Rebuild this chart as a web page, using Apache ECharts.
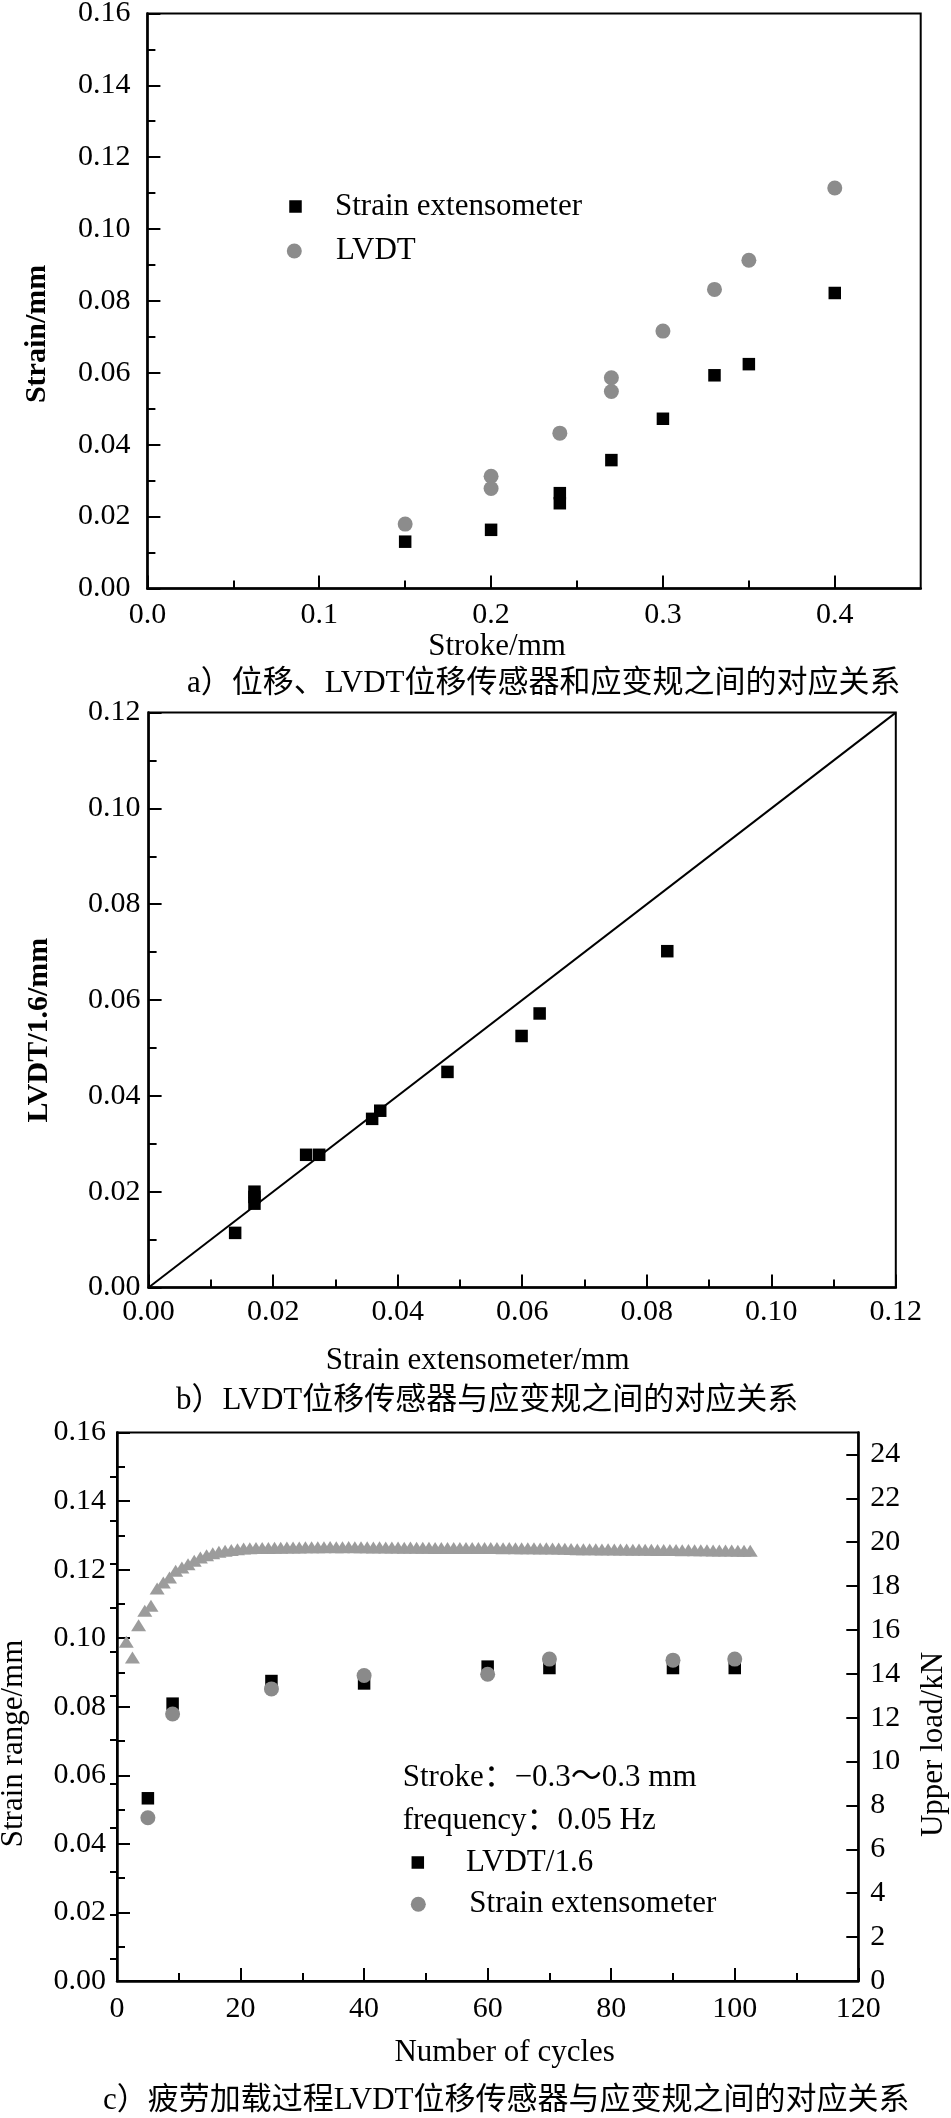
<!DOCTYPE html>
<html><head><meta charset="utf-8">
<script src="https://cdn.jsdelivr.net/npm/echarts@6/dist/echarts.min.js"></script>
<style>html,body{margin:0;padding:0;background:#fff}#c{width:951px;height:2118px}</style>
</head><body><div id="c"></div>
<script>
// ---------- chart a: stroke vs strain ----------
const aExtStroke  = [0.15, 0.20, 0.24, 0.24, 0.27, 0.30, 0.33, 0.35, 0.40];
const aExtStrain  = [0.0130, 0.0163, 0.0265, 0.0237, 0.0357, 0.0472, 0.0593, 0.0624, 0.0822];
const aLvdtStroke = [0.15, 0.20, 0.20, 0.24, 0.27, 0.27, 0.30, 0.33, 0.35, 0.40];
const aLvdtStrain = [0.0179, 0.0312, 0.0278, 0.0432, 0.0586, 0.0548, 0.0716, 0.0832, 0.0913, 0.1114];
const aXMinorTicks = [0.05, 0.15, 0.25, 0.35];

// ---------- chart b: extensometer vs LVDT/1.6 ----------
const bExt  = [0.0139, 0.0170, 0.0170, 0.0170, 0.0253, 0.0274, 0.0359, 0.0372, 0.0480, 0.0599, 0.0628, 0.0833];
const bLvdt = [0.0114, 0.0200, 0.0189, 0.0175, 0.0277, 0.0277, 0.0352, 0.0369, 0.0450, 0.0525, 0.0572, 0.0702];
const bRefX = [0, 0.12];
const bRefY = [0, 0.12];

// ---------- chart c: fatigue loading ----------
const cCycles = [5, 9, 25, 40, 60, 70, 90, 100];
const cLvdt   = [0.0533, 0.0809, 0.0875, 0.0868, 0.0917, 0.0913, 0.0913, 0.0913];
const cExt    = [0.0476, 0.0779, 0.0852, 0.0891, 0.0895, 0.0939, 0.0936, 0.0939];
const cLoadCycles = [
  1.5, 2.5, 3.5, 4.5, 5.5, 6.5, 7.5, 8.5, 9.5, 10.5,
  11.5, 12.5, 13.5, 14.5, 15.5, 16.5, 17.5, 18.5, 19.5, 20.5,
  21.5, 22.5, 23.5, 24.5, 25.5, 26.5, 27.5, 28.5, 29.5, 30.5,
  31.5, 32.5, 33.5, 34.5, 35.5, 36.5, 37.5, 38.5, 39.5, 40.5,
  41.5, 42.5, 43.5, 44.5, 45.5, 46.5, 47.5, 48.5, 49.5, 50.5,
  51.5, 52.5, 53.5, 54.5, 55.5, 56.5, 57.5, 58.5, 59.5, 60.5,
  61.5, 62.5, 63.5, 64.5, 65.5, 66.5, 67.5, 68.5, 69.5, 70.5,
  71.5, 72.5, 73.5, 74.5, 75.5, 76.5, 77.5, 78.5, 79.5, 80.5,
  81.5, 82.5, 83.5, 84.5, 85.5, 86.5, 87.5, 88.5, 89.5, 90.5,
  91.5, 92.5, 93.5, 94.5, 95.5, 96.5, 97.5, 98.5, 99.5, 100.5,
  101.5, 102.5
];
const cUpperLoad = [
  15.46, 14.74, 16.22, 16.87, 17.10, 17.89, 18.16, 18.39, 18.70, 18.85,
  19.00, 19.15, 19.30, 19.41, 19.50, 19.56, 19.61, 19.65, 19.68, 19.71,
  19.72, 19.73, 19.74, 19.74, 19.75, 19.75, 19.76, 19.76, 19.76, 19.77,
  19.77, 19.77, 19.77, 19.78, 19.77, 19.77, 19.78, 19.77, 19.77, 19.77,
  19.76, 19.77, 19.76, 19.76, 19.76, 19.75, 19.76, 19.75, 19.75, 19.75,
  19.74, 19.74, 19.74, 19.74, 19.73, 19.74, 19.73, 19.73, 19.73, 19.73,
  19.73, 19.72, 19.73, 19.72, 19.72, 19.72, 19.72, 19.71, 19.72, 19.71,
  19.71, 19.70, 19.69, 19.68, 19.68, 19.68, 19.68, 19.67, 19.68, 19.67,
  19.67, 19.67, 19.66, 19.67, 19.66, 19.66, 19.65, 19.64, 19.64, 19.64,
  19.63, 19.64, 19.63, 19.63, 19.63, 19.62, 19.62, 19.62, 19.62, 19.61,
  19.61, 19.61
];
const cRightMajorTicks = [0, 2, 4, 6, 8, 10, 12, 14, 16, 18, 20, 22, 24];
const cRightMinorTicks = [1, 3, 5, 7, 9, 11, 13, 15, 17, 19, 21, 23];

const legendNames = {
  aExt: 'Strain extensometer', aLvdt: 'LVDT',
  cLvdt: 'LVDT/1.6', cExt: 'Strain extensometer'
};
const captions = [
  'a）位移、LVDT位移传感器和应变规之间的对应关系',
  'b）LVDT位移传感器与应变规之间的对应关系',
  'c）疲劳加载过程LVDT位移传感器与应变规之间的对应关系'
];
const notes = ['Stroke：−0.3～0.3 mm', 'frequency：0.05 Hz'];
const cAxisTitles = ['Strain range/mm', 'Upper load/kN'];

const FONT = "'Liberation Serif', 'Noto Sans CJK SC', serif";
const zip = (xs, ys) => xs.map((x, i) => [x, ys[i]]);
const BLACK = '#000';

function labelStyle(fmt, margin, extra) {
  return Object.assign({ show: true, formatter: fmt, margin: margin, fontSize: 30, fontFamily: FONT, color: BLACK }, extra || {});
}
function valueAxis(o) {
  const base = {
    type: 'value', splitLine: { show: false },
    axisLine: { show: true, onZero: false, lineStyle: { color: BLACK, width: 2.5 } },
    axisTick: { show: true, inside: true, length: 13, lineStyle: { color: BLACK, width: 2 } },
    minorTick: { show: false },
    nameTextStyle: { fontSize: 31, fontFamily: FONT, color: BLACK }
  };
  return Object.assign(base, o);
}
function minorAxis(o) {
  return Object.assign({
    type: 'value', splitLine: { show: false }, axisLine: { show: false },
    axisLabel: { show: false },
    axisTick: { show: true, inside: true, length: 8, lineStyle: { color: BLACK, width: 2 } }
  }, o);
}
const mtick = { show: true, splitNumber: 2, length: 8, lineStyle: { color: BLACK, width: 2 } };

function mkLegend(name, left, top, w, h, pad) {
  return {
    data: [name], left: left, top: top, orient: 'vertical', itemWidth: w, itemHeight: h,
    padding: 0, selectedMode: false, formatter: n => legendNames[n],
    textStyle: { fontFamily: FONT, fontSize: 31, color: BLACK, padding: pad }
  };
}
function txt(t, x, y, size) {
  return { type: 'text', x: x, y: y, silent: true,
    style: { text: t, fontSize: size, fontFamily: FONT, fill: BLACK, verticalAlign: 'middle', align: 'left' } };
}
function vtxt(t, x, y, size) {
  return { type: 'text', x: x, y: y, rotation: Math.PI / 2, silent: true,
    style: { text: t, fontSize: size, fontFamily: FONT, fill: BLACK, verticalAlign: 'middle', align: 'center' } };
}

const chart = echarts.init(document.getElementById('c'), null, { renderer: 'canvas' });
const gridBox = { show: true, borderColor: BLACK, borderWidth: 2, backgroundColor: 'transparent', containLabel: false, outerBoundsMode: 'none' };

chart.setOption({
  animation: false,
  backgroundColor: '#fff',
  textStyle: { fontFamily: FONT },
  grid: [
    Object.assign({ left: 147.4, top: 13.4, width: 773.3, height: 575 }, gridBox),
    Object.assign({ left: 148.6, top: 712.6, width: 747.2, height: 574.9 }, gridBox),
    Object.assign({ left: 117, top: 1432.5, width: 741.3, height: 548.5 }, gridBox)
  ],
  xAxis: [
    valueAxis({ gridIndex: 0, position: 'bottom', min: 0, max: 0.45, interval: 0.1,
      axisLabel: labelStyle(v => v.toFixed(1), 12, { showMaxLabel: false }),
      name: 'Stroke/mm', nameLocation: 'middle', nameGap: 41,
      nameTextStyle: { fontSize: 31, fontFamily: FONT, color: BLACK, padding: [0, 74, 0, 0] } }),
    minorAxis({ gridIndex: 0, position: 'bottom', min: 0, max: 0.45,
      axisTick: { show: true, inside: true, length: 8, customValues: aXMinorTicks, lineStyle: { color: BLACK, width: 2 } } }),
    valueAxis({ gridIndex: 1, position: 'bottom', min: 0, max: 0.12, interval: 0.02, minorTick: mtick,
      axisLabel: labelStyle(v => v.toFixed(2), 10),
      name: 'Strain extensometer/mm', nameLocation: 'middle', nameGap: 58,
      nameTextStyle: { fontSize: 31, fontFamily: FONT, color: BLACK, padding: [0, 89, 0, 0] } }),
    valueAxis({ gridIndex: 2, position: 'bottom', min: 0, max: 120, interval: 20, minorTick: mtick,
      axisLabel: labelStyle(v => String(v), 13),
      name: 'Number of cycles', nameLocation: 'middle', nameGap: 56,
      nameTextStyle: { fontSize: 31, fontFamily: FONT, color: BLACK, padding: [0, 0, 0, 34] } })
  ],
  yAxis: [
    valueAxis({ gridIndex: 0, position: 'left', min: 0, max: 0.16, interval: 0.02, minorTick: mtick,
      axisLabel: labelStyle(v => v.toFixed(2), 17),
      name: 'Strain/mm', nameLocation: 'middle', nameGap: 95,
      nameTextStyle: { fontSize: 30, fontWeight: 'bold', fontFamily: FONT, color: BLACK, padding: [0, 66, 0, 0] } }),
    valueAxis({ gridIndex: 1, position: 'left', min: 0, max: 0.12, interval: 0.02, minorTick: mtick,
      axisLabel: labelStyle(v => v.toFixed(2), 8),
      name: 'LVDT/1.6/mm', nameLocation: 'middle', nameGap: 94,
      nameTextStyle: { fontSize: 30, fontWeight: 'bold', fontFamily: FONT, color: BLACK, padding: [0, 60, 0, 0] } }),
    valueAxis({ gridIndex: 2, position: 'left', min: 0, max: 0.16, interval: 0.02, minorTick: mtick,
      axisLabel: labelStyle(v => v.toFixed(2), 11) }),
    valueAxis({ gridIndex: 2, position: 'right', min: 0, max: 25, interval: 2,
      axisTick: { show: true, inside: true, length: 12, customValues: cRightMajorTicks, lineStyle: { color: BLACK, width: 2 } },
      axisLabel: labelStyle(v => String(v), 12, { showMaxLabel: false }) }),
    minorAxis({ gridIndex: 2, position: 'right', min: 0, max: 25,
      axisTick: { show: true, inside: true, length: 7, customValues: cRightMinorTicks, lineStyle: { color: BLACK, width: 2 } } })
  ],
  legend: [
    mkLegend('aExt', 289.25, 191, 12.5, 12.5, [0, 0, 10, 28.25]),
    mkLegend('aLvdt', 286.8, 235.5, 15, 15, [0, 0, 6, 29.2]),
    mkLegend('cLvdt', 411.55, 1847, 12.5, 12.5, [0, 0, 0, 36.95]),
    mkLegend('cExt', 410.8, 1888.8, 15, 15, [0, 0, 0, 38.5])
  ],
  series: [
    { name: 'aLvdt', type: 'scatter', xAxisIndex: 0, yAxisIndex: 0, symbol: 'circle', symbolSize: 15,
      itemStyle: { color: '#8c8c8c', opacity: 1 }, data: zip(aLvdtStroke, aLvdtStrain) },
    { name: 'aExt', type: 'scatter', xAxisIndex: 0, yAxisIndex: 0, symbol: 'rect', symbolSize: 12.5,
      itemStyle: { color: BLACK, opacity: 1 }, data: zip(aExtStroke, aExtStrain) },
    { name: 'bRef', type: 'line', xAxisIndex: 2, yAxisIndex: 1, symbol: 'none',
      lineStyle: { color: BLACK, width: 2 }, data: zip(bRefX, bRefY) },
    { name: 'bPts', type: 'scatter', xAxisIndex: 2, yAxisIndex: 1, symbol: 'rect', symbolSize: 12.5,
      itemStyle: { color: BLACK, opacity: 1 }, data: zip(bExt, bLvdt) },
    { name: 'cLoad', type: 'scatter', xAxisIndex: 3, yAxisIndex: 3, symbol: 'triangle', symbolSize: [15, 12],
      itemStyle: { color: '#9c9c9c', opacity: 1 }, data: zip(cLoadCycles, cUpperLoad) },
    { name: 'cLvdt', type: 'scatter', xAxisIndex: 3, yAxisIndex: 2, symbol: 'rect', symbolSize: 12.5,
      itemStyle: { color: BLACK, opacity: 1 }, data: zip(cCycles, cLvdt) },
    { name: 'cExt', type: 'scatter', xAxisIndex: 3, yAxisIndex: 2, symbol: 'circle', symbolSize: 15,
      itemStyle: { color: '#8a8a8a', opacity: 1 }, data: zip(cCycles, cExt) }
  ],
  graphic: [
    txt(captions[0], 187, 684, 31),
    txt(captions[1], 176, 1401, 31),
    txt(captions[2], 103, 2101, 31),
    txt(notes[0], 402.7, 1777.5, 31),
    txt(notes[1], 402.7, 1820.5, 31),
    vtxt(cAxisTitles[0], 14, 1743.5, 31),
    vtxt(cAxisTitles[1], 934, 1744.5, 31)
  ]
});
</script></body></html>
